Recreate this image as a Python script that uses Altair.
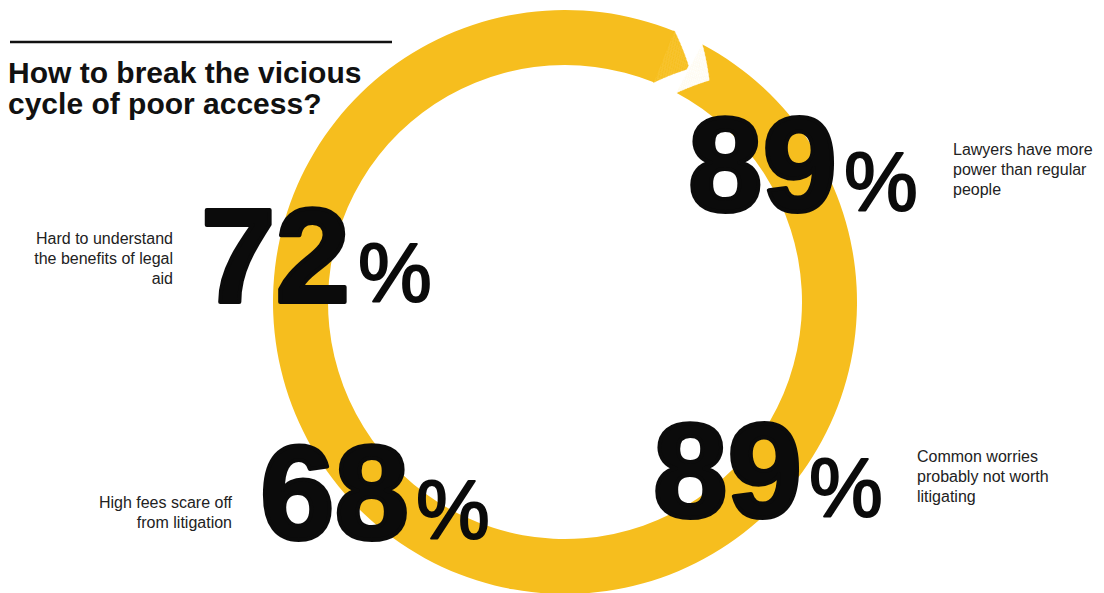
import altair as alt
import pandas as pd

# ---------------- data ----------------
pct_values = [89, 72, 68, 89]
statements = [
    "Lawyers have more\npower than regular\npeople",
    "Hard to understand\nthe benefits of legal\naid",
    "High fees scare off\nfrom litigation",
    "Common worries\nprobably not worth\nlitigating",
]
title_text = "How to break the vicious\ncycle of poor access?"

# ---------------- layout (chart pixel coords) ----------------
num_x = [680, 193, 252, 645]
num_y = [203, 294, 531, 509]
pct_x = [836, 350, 408, 801]
lab_x = [945, 165, 224, 909]
lab_y = [147, 236, 500, 454]
lab_align = ["left", "right", "right", "left"]

W, H = 1088, 585
CX, CY = 557, 294
R_OUT, R_IN = 292, 237
RING_START, RING_END = 28, 382     # degrees clockwise from 12 o'clock
TIP_LEN, NOTCH_LEN = 6, 5
N_BANDS = 55
YELLOW = "#F6BE1E"
INK = "#0b0b0b"

stats = pd.DataFrame({
    "num": [str(v) for v in pct_values],
    "pct": ["%"] * 4,
    "label": statements,
    "nx": num_x, "ny": num_y, "px": pct_x,
    "lx": lab_x, "ly": lab_y, "align": lab_align,
})

# ring body
ring = pd.DataFrame({"t1": [RING_START], "t2": [RING_END], "r1": [R_IN], "r2": [R_OUT]})

# chevron tip & notch built from thin concentric bands
half = (R_OUT - R_IN) / 2
mid = (R_OUT + R_IN) / 2
step = (R_OUT - R_IN) / N_BANDS
rows_tip, rows_notch = [], []
for k in range(N_BANDS):
    a = R_IN + k * step
    b = a + step
    f = 1 - abs((a + b) / 2 - mid) / half
    rows_tip.append({"t1": RING_END - 0.2, "t2": RING_END + TIP_LEN * f, "r1": a, "r2": b})
    rows_notch.append({"t1": RING_START - 0.3, "t2": RING_START + NOTCH_LEN * f, "r1": a, "r2": b})
tip = pd.DataFrame(rows_tip)
notch = pd.DataFrame(rows_notch)

theta_scale = alt.Scale(domain=[0, 360], range=[0, 6.283185307])


def arcs(df, color, stroke_w):
    return alt.Chart(df).mark_arc(color=color, stroke=color, strokeWidth=stroke_w).encode(
        theta=alt.Theta("t1:Q", scale=theta_scale, stack=None),
        theta2="t2:Q",
        radius=alt.Radius("r1:Q", scale=None),
        radius2="r2:Q",
        x=alt.value(CX),
        y=alt.value(CY),
    )


ring_layer = arcs(ring, YELLOW, 0)
tip_layer = arcs(tip, YELLOW, 0.5)
notch_layer = arcs(notch, "white", 0.6)

base = alt.Chart(stats)

nums = base.mark_text(
    font="Liberation Sans", fontWeight="bold", fontSize=134, color=INK,
    stroke=INK, strokeWidth=4, strokeJoin="round",
    align="left", baseline="alphabetic",
).encode(x=alt.X("nx:Q", scale=None), y=alt.Y("ny:Q", scale=None), text="num:N")

pcts = base.mark_text(
    font="Liberation Sans", fontWeight="normal", fontSize=83, color=INK,
    stroke=INK, strokeWidth=2, strokeJoin="round",
    align="left", baseline="alphabetic",
).encode(x=alt.X("px:Q", scale=None), y=alt.Y("ny:Q", scale=None), text="pct:N")

labels_left = base.transform_filter(alt.datum.align == "left").mark_text(
    font="Liberation Sans", fontSize=16, color="#222222", align="left",
    baseline="alphabetic", lineBreak="\n", lineHeight=20,
).encode(x=alt.X("lx:Q", scale=None), y=alt.Y("ly:Q", scale=None), text="label:N")

labels_right = base.transform_filter(alt.datum.align == "right").mark_text(
    font="Liberation Sans", fontSize=16, color="#222222", align="right",
    baseline="alphabetic", lineBreak="\n", lineHeight=20,
).encode(x=alt.X("lx:Q", scale=None), y=alt.Y("ly:Q", scale=None), text="label:N")

title = alt.Chart(pd.DataFrame({"t": [title_text]})).mark_text(
    font="Liberation Sans", fontWeight="bold", fontSize=30, color="#111111",
    align="left", baseline="alphabetic", lineBreak="\n", lineHeight=31,
).encode(x=alt.value(0), y=alt.value(75), text="t:N")

rule = alt.Chart(pd.DataFrame({"a": [0]})).mark_rule(
    color="#111111", strokeWidth=2.5, strokeCap="butt"
).encode(x=alt.value(2), x2=alt.value(384), y=alt.value(34))

chart = alt.layer(
    ring_layer, tip_layer, notch_layer, rule, title, nums, pcts, labels_left, labels_right
).properties(
    width=W, height=H, padding=0, autosize=alt.AutoSizeParams(type="none"),
    background="white",
).configure_view(stroke=None)

chart.save("out.html", embed_options={"renderer": "svg", "actions": False})
